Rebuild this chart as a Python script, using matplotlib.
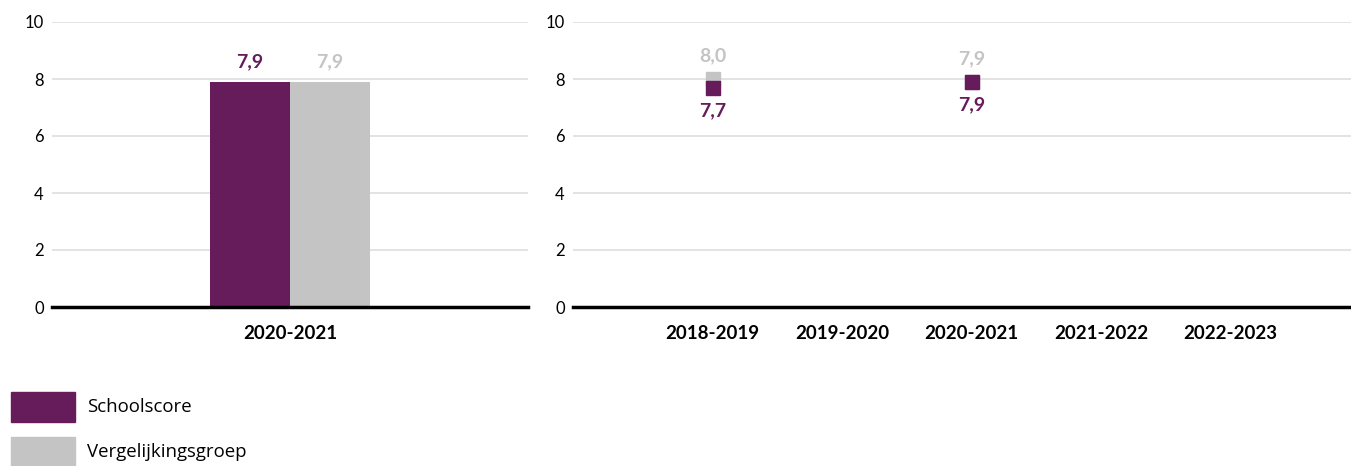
#!/usr/bin/env python3
import matplotlib
matplotlib.use('Agg')
import matplotlib.pyplot as plt
from matplotlib.patches import Rectangle

plt.rcParams['font.family'] = ['Lato', 'DejaVu Sans']

# data
bar_cat = ['2020-2021']
bar_school = [7.9]
bar_vgl = [7.9]

years = ['2018-2019', '2019-2020', '2020-2021', '2021-2022', '2022-2023']
school = [7.7, None, 7.9, None, None]
vgl = [8.0, None, 7.9, None, None]

series_names = ['Schoolscore', 'Vergelijkingsgroep']
yticks = [0, 2, 4, 6, 8, 10]

PURPLE = '#661c5a'
GREY = '#c4c4c4'
W, H = 1351, 466


def fmt(v):
    return '{0:.1f}'.format(v).replace('.', ',')


def style_axes(ax):
    ax.set_ylim(0, 10)
    ax.set_yticks(yticks)
    ax.grid(axis='y', color='#e3e3e3', linewidth=1.4)
    ax.set_axisbelow(True)
    for s in ['top', 'right', 'left']:
        ax.spines[s].set_visible(False)
    ax.spines['bottom'].set_linewidth(2.5)
    ax.spines['bottom'].set_color('black')
    ax.tick_params(axis='both', length=0)
    ax.tick_params(axis='y', labelsize=12, pad=6)
    ax.tick_params(axis='x', labelsize=13.5, pad=13)
    for lab in ax.get_xticklabels():
        lab.set_fontweight('bold')


fig = plt.figure(figsize=(W / 100, H / 100), dpi=100)

# left: bar chart
axl = fig.add_axes([52 / W, 1 - 307 / H, (528 - 52) / W, (307 - 22) / H])
bw = 80 / 476 * 2.0
xs = range(len(bar_cat))
for i in xs:
    axl.bar(i - bw / 2, bar_school[i], width=bw, color=PURPLE)
    axl.bar(i + bw / 2, bar_vgl[i], width=bw, color=GREY)
    axl.text(i - bw / 2, bar_school[i] + 0.4, fmt(bar_school[i]), ha='center',
             va='bottom', color=PURPLE, fontsize=14, fontweight='bold')
    axl.text(i + bw / 2, bar_vgl[i] + 0.4, fmt(bar_vgl[i]), ha='center',
             va='bottom', color=GREY, fontsize=14, fontweight='bold')
axl.set_xlim(-1, 1)
axl.set_xticks(list(xs))
axl.set_xticklabels(bar_cat)
style_axes(axl)

# right: trend with square markers
axr = fig.add_axes([573 / W, 1 - 307 / H, (1351 - 573) / W, (307 - 22) / H])
for i, y in enumerate(years):
    if vgl[i] is not None:
        axr.plot(i, vgl[i], marker='s', markersize=10, color=GREY, linestyle='none')
        axr.text(i, vgl[i] + 0.5, fmt(vgl[i]), ha='center', va='bottom',
                 color=GREY, fontsize=14, fontweight='bold')
    if school[i] is not None:
        axr.plot(i, school[i], marker='s', markersize=10, color=PURPLE, linestyle='none')
        axr.text(i, school[i] - 0.5, fmt(school[i]), ha='center', va='top',
                 color=PURPLE, fontsize=14, fontweight='bold')
axr.set_xlim(-1.08, 4.93)
axr.set_xticks(range(len(years)))
axr.set_xticklabels(years)
style_axes(axr)

# legend
for k, (name, col) in enumerate(zip(series_names, [PURPLE, GREY])):
    y0 = 392 + k * 45
    fig.patches.append(Rectangle((11 / W, 1 - (y0 + 30) / H), 64 / W, 30 / H,
                                 transform=fig.transFigure, color=col))
    fig.text(87 / W, 1 - (y0 + 15) / H, name, va='center', ha='left',
             fontsize=13.4, family=['Open Sans', 'DejaVu Sans'])

fig.savefig('out.png', dpi=100)
